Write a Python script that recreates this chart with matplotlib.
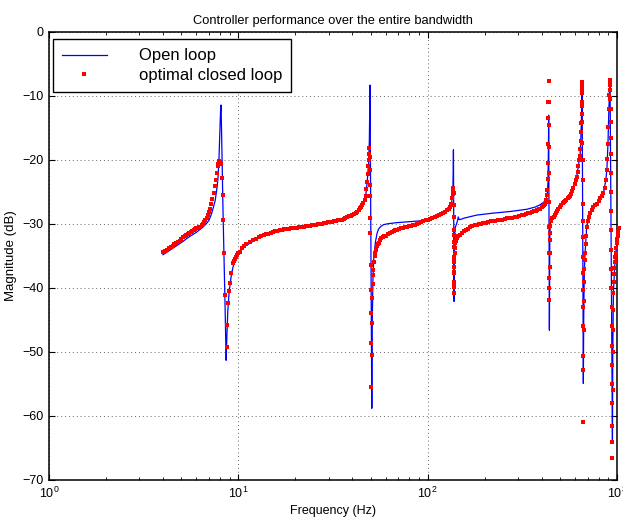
import matplotlib
matplotlib.use("Agg")
import matplotlib.pyplot as plt
from matplotlib.ticker import LogLocator, NullFormatter

plt.rcParams['font.family'] = ['Liberation Sans', 'DejaVu Sans']
plt.rcParams['mathtext.fontset'] = 'custom'
plt.rcParams['mathtext.rm'] = 'Liberation Sans'
plt.rcParams['mathtext.it'] = 'Liberation Sans:italic'
plt.rcParams['mathtext.bf'] = 'Liberation Sans:bold'

# ---------------- data (frequency Hz, magnitude dB) ----------------
open_loop = [
    (4.0, -34.8), (4.5, -33.8), (5.0, -32.9), (5.5, -32.0), (6.0, -31.3), (6.5, -30.5),
    (6.8, -29.9), (7.0, -29.4), (7.2, -28.5), (7.4, -27.3), (7.55, -26.3), (7.7, -24.5),
    (7.8, -23.0), (7.9, -20.0), (7.97, -16.5), (8.05, -12.5), (8.1, -11.4), (8.15, -15.0),
    (8.22, -21.0), (8.3, -28.0), (8.4, -35.0), (8.5, -42.0), (8.56, -47.0), (8.62, -51.3),
    (8.7, -47.5), (8.8, -43.5), (8.95, -40.5), (9.2, -37.8), (9.5, -36.0), (9.8, -35.0),
    (10.2, -34.4), (10.7, -33.6), (11.5, -33.0), (13.0, -32.1), (15.3, -31.4), (18.8, -30.85),
    (23.0, -30.45), (28.1, -30.05), (34.5, -29.55), (38.9, -28.95), (42.2, -28.3), (44.9, -27.4),
    (46.4, -26.5), (47.4, -24.9), (48.2, -22.5), (48.8, -20.3), (49.2, -17.0), (49.45, -12.0),
    (49.6, -8.3), (49.8, -18.0), (50.0, -30.0), (50.3, -42.0), (50.5, -51.0), (50.7, -58.8),
    (51.0, -45.0), (51.4, -38.5), (52.0, -35.0), (53.0, -32.8), (54.0, -31.5), (55.0, -30.8),
    (56.5, -30.4), (58.5, -30.1), (62.0, -29.95), (68.0, -29.8), (75.0, -29.7), (84.0, -29.6),
    (92.0, -29.5), (100.0, -29.35), (110.0, -29.0), (116.3, -28.7), (122.0, -28.35), (127.0, -27.9),
    (131.3, -27.3), (134.0, -26.5), (135.7, -25.3), (136.5, -22.0), (136.8, -18.4), (137.2, -28.0),
    (137.6, -36.0), (137.9, -42.1), (138.3, -36.0), (138.8, -31.5), (140.0, -30.5), (142.0, -30.0),
    (144.0, -29.4), (145.0, -28.9), (146.5, -29.3), (149.0, -29.3), (155.0, -29.1), (165.0, -28.9),
    (182.0, -28.6), (222.0, -28.3), (272.0, -28.05), (334.0, -27.7), (370.0, -27.35), (392.0, -27.0),
    (410.0, -26.6), (420.0, -26.2), (428.0, -25.5), (432.0, -23.5), (434.5, -18.0), (435.5, -13.0),
    (437.0, -25.0), (438.5, -36.0), (439.5, -46.6), (440.5, -38.0), (441.5, -33.0), (443.0, -30.8),
    (446.0, -29.6), (462.0, -28.9), (500.0, -27.3), (565.0, -25.7), (613.0, -22.6), (639.0, -19.0),
    (648.0, -14.5), (652.0, -10.0), (654.0, -7.8), (657.0, -20.0), (660.0, -35.0), (662.0, -45.0),
    (664.0, -54.9), (667.0, -45.0), (670.0, -40.0), (673.0, -37.0), (678.0, -34.6), (692.0, -30.4),
    (721.0, -28.3), (782.0, -26.8), (848.0, -25.2), (872.0, -23.2), (884.0, -21.6), (896.0, -17.5),
    (906.0, -12.0), (915.0, -8.3), (919.0, -7.5), (925.0, -20.0), (932.0, -35.0), (940.0, -52.0),
    (946.0, -63.75), (950.0, -50.0), (957.0, -40.8), (975.0, -36.0), (998.0, -33.0),
]

closed_a = [
    (4.0, -34.4), (4.1, -34.2), (4.2, -34.0), (4.3, -33.8), (4.4, -33.6), (4.5, -33.4),
    (4.6, -33.2), (4.7, -33.0), (4.8, -32.8), (4.9, -32.6), (5.0, -32.3), (5.1, -32.1),
    (5.2, -31.9), (5.3, -31.7), (5.4, -31.5), (5.5, -31.4), (5.6, -31.2), (5.7, -31.1),
    (5.8, -30.9), (5.9, -30.8), (6.0, -30.7), (6.1, -30.6), (6.2, -30.5), (6.3, -30.4),
    (6.4, -30.2), (6.5, -30.0), (6.6, -29.7), (6.7, -29.4), (6.8, -29.0), (6.9, -28.6),
    (7.0, -28.1), (7.1, -27.6), (7.2, -26.9), (7.3, -26.1), (7.4, -25.1), (7.5, -24.1),
    (7.6, -23.1), (7.7, -22.0), (7.8, -21.0), (7.85, -20.6), (7.9, -20.3), (7.95, -20.2),
    (8.0, -20.3), (8.05, -20.4), (8.1, -20.6), (8.17, -22.8), (8.25, -25.5), (8.33, -29.4),
    (8.45, -34.6), (8.55, -41.1), (8.68, -45.8), (8.75, -49.2), (8.84, -42.3), (8.93, -40.5),
    (9.03, -39.2), (9.2, -37.6), (9.4, -36.1), (9.5, -35.8), (9.6, -35.5), (9.7, -35.1),
    (9.8, -34.8), (10.0, -34.5), (10.2, -34.3), (10.4, -33.8), (10.7, -33.5), (11.0, -33.2),
    (11.5, -32.8),
]

closed_b = [
    (12.0, -32.5), (12.4, -32.3), (12.8, -32.0), (13.2, -31.85), (13.6, -31.7), (14.0, -31.6),
    (14.4, -31.5), (14.8, -31.4), (15.2, -31.25), (15.6, -31.15), (16.0, -31.1), (16.5, -31.0),
    (17.0, -30.95), (17.5, -30.85), (18.0, -30.8), (18.5, -30.75), (19.0, -30.7), (19.5, -30.65),
    (20.0, -30.6), (20.5, -30.55), (21.0, -30.5), (21.6, -30.45), (22.2, -30.4), (22.8, -30.35),
    (23.4, -30.3), (24.0, -30.25), (24.6, -30.2), (25.2, -30.15), (25.8, -30.1), (26.4, -30.05),
    (27.0, -30.0), (27.7, -29.95), (28.4, -29.9), (29.1, -29.85), (29.8, -29.75), (30.5, -29.7),
    (31.2, -29.65), (32.0, -29.6), (32.8, -29.5), (33.6, -29.45), (34.4, -29.4), (35.2, -29.3),
    (36.0, -29.2), (36.8, -29.1), (37.6, -28.95), (38.4, -28.8), (39.2, -28.7), (40.0, -28.55),
    (40.8, -28.4), (41.6, -28.25), (42.4, -28.05), (43.2, -27.8), (44.0, -27.5), (44.6, -27.3),
    (45.2, -27.0), (45.8, -26.7), (46.4, -26.3), (47.0, -25.6), (47.4, -24.6), (47.8, -23.4),
    (48.2, -22.2), (48.5, -21.0), (48.8, -20.0), (49.0, -19.0), (49.2, -18.2), (49.35, -19.5),
    (49.45, -21.5), (49.55, -23.9), (49.65, -25.7), (49.75, -29.1), (49.85, -31.4), (49.95, -36.4),
    (50.05, -40.3), (50.15, -43.9), (50.25, -48.6), (50.4, -55.4),
]

closed_c = [
    (50.6, -50.5), (50.8, -45.5), (51.0, -41.5), (51.2, -39.3), (51.5, -38.0), (51.7, -37.2),
    (52.0, -36.0), (52.4, -35.0), (52.7, -34.6), (53.2, -34.0), (53.8, -33.5), (54.4, -33.2),
    (55.0, -32.9), (56.0, -32.5), (57.0, -32.2), (58.0, -32.0), (59.0, -31.9), (60.0, -31.8),
    (61.5, -31.6), (63.0, -31.4), (64.5, -31.3), (66.0, -31.1), (67.5, -31.0), (69.0, -30.9),
    (70.5, -30.8), (72.0, -30.7), (74.0, -30.6), (76.0, -30.5), (78.0, -30.45), (80.0, -30.35),
    (82.0, -30.3), (84.0, -30.2), (86.0, -30.1), (88.0, -30.0), (90.0, -29.9), (92.5, -29.75),
    (95.0, -29.6), (97.5, -29.45), (100.0, -29.3), (103.0, -29.15), (106.0, -29.0), (109.0, -28.85),
    (112.0, -28.75), (115.0, -28.6), (118.0, -28.45), (121.0, -28.3), (124.0, -28.1), (127.0, -27.85),
    (129.5, -27.6), (131.5, -27.3), (133.5, -26.8), (135.0, -26.0), (135.8, -25.3), (136.3, -24.7),
    (136.8, -24.4), (137.0, -25.2), (137.1, -27.0), (137.2, -28.9), (137.3, -30.9), (137.4, -31.7),
    (137.5, -32.8), (137.6, -33.6), (137.7, -35.6), (137.75, -36.7), (137.8, -37.7), (137.85, -39.2),
    (137.9, -39.8), (137.95, -40.8),
]

closed_d = [
    (138.05, -39.0), (138.15, -37.5), (138.3, -36.0), (138.5, -35.2), (138.8, -34.6), (139.2, -33.8),
    (139.6, -33.0), (140.5, -32.7), (141.5, -32.45), (143.0, -32.2), (145.0, -31.95), (148.3, -31.7),
    (152.0, -31.4), (156.0, -31.15), (160.0, -30.95), (164.0, -30.75), (167.5, -30.5), (172.0, -30.35),
    (177.0, -30.2), (182.0, -30.1), (187.0, -30.0), (192.0, -29.95), (197.0, -29.9), (203.0, -29.8),
    (209.0, -29.7), (215.0, -29.6), (221.0, -29.55), (227.0, -29.5), (234.0, -29.45), (241.0, -29.4),
    (248.0, -29.3), (256.0, -29.2), (264.0, -29.1), (272.0, -29.05), (280.0, -29.0), (288.0, -28.95),
    (296.0, -28.9), (305.0, -28.8), (314.0, -28.65), (323.0, -28.55), (332.0, -28.45), (340.0, -28.35),
    (348.0, -28.3), (356.0, -28.15), (364.0, -28.0), (372.0, -27.9), (380.0, -27.8), (388.0, -27.7),
    (393.0, -27.6), (400.0, -27.4), (407.0, -27.2), (413.0, -27.0), (417.0, -26.8), (422.0, -26.2),
    (426.0, -25.5), (429.0, -24.7), (430.5, -23.0), (431.5, -20.5), (432.5, -17.5), (433.5, -13.5),
    (434.5, -10.9), (435.0, -7.6), (435.5, -10.9), (436.0, -14.5), (436.5, -18.0), (437.0, -22.0),
    (437.5, -26.5), (438.0, -30.5), (438.5, -34.5), (439.0, -38.5), (439.5, -41.9), (440.0, -40.0),
    (440.5, -36.7), (441.0, -34.6), (441.5, -32.5), (442.5, -31.4), (444.0, -30.3), (446.0, -29.6),
]

closed_e = [
    (450.0, -29.3), (456.0, -29.1), (462.0, -28.9), (468.0, -28.6), (475.0, -28.3), (482.0, -28.0),
    (490.0, -27.7), (500.0, -27.3), (508.0, -27.0), (516.0, -26.75), (524.0, -26.5), (532.0, -26.35),
    (540.0, -26.2), (548.0, -26.0), (556.0, -25.85), (565.0, -25.7), (573.0, -25.3), (581.0, -24.9),
    (589.0, -24.4), (597.0, -23.8), (605.0, -23.2), (613.0, -22.6), (620.0, -21.8), (626.0, -20.9),
    (632.0, -20.0), (637.0, -19.3), (641.0, -18.3), (644.0, -17.0), (646.5, -15.6), (648.5, -14.2),
    (650.0, -12.8), (651.5, -11.0), (652.5, -9.6), (653.5, -8.4), (654.2, -7.8), (654.8, -7.9),
    (655.3, -9.1), (655.9, -11.5), (656.5, -14.0), (657.0, -17.4), (657.5, -20.0), (658.0, -23.1),
    (658.5, -26.8), (659.0, -29.5), (659.5, -32.0), (660.0, -35.1), (660.5, -37.7), (661.0, -40.3),
    (661.5, -42.9), (662.0, -46.0), (662.6, -50.7), (663.5, -60.9), (664.5, -52.8), (665.5, -46.5),
    (667.0, -42.0), (669.0, -39.0), (671.5, -37.0), (674.5, -35.6), (678.0, -34.6), (682.0, -33.2),
    (687.0, -31.8), (692.0, -30.4), (700.0, -29.6), (710.0, -28.9), (721.0, -28.3), (735.0, -27.8),
    (750.0, -27.4), (765.0, -27.1), (782.0, -26.8), (800.0, -26.4), (815.0, -26.0), (830.0, -25.7),
    (848.0, -25.2), (860.0, -24.4), (872.0, -23.2), (884.0, -21.6), (890.0, -19.8), (896.0, -17.5),
    (901.0, -14.8), (906.0, -12.0), (911.0, -9.8), (915.0, -8.3), (919.0, -7.5),
]

closed_f = [
    (920.0, -7.6), (921.0, -8.2), (922.0, -9.0), (923.0, -10.5), (924.0, -12.0), (925.0, -14.0),
    (926.0, -16.5), (927.0, -19.0), (928.0, -22.0), (929.0, -25.0), (930.0, -28.0), (931.0, -31.0),
    (932.0, -34.0), (933.0, -37.0), (934.2, -40.0), (935.4, -43.0), (936.6, -46.0), (937.8, -49.0),
    (939.0, -52.0), (940.3, -55.0), (941.6, -58.0), (943.0, -61.5), (944.5, -64.0), (946.0, -66.6),
    (948.0, -56.0), (950.0, -50.0), (952.0, -46.5), (954.5, -43.5), (957.0, -40.8), (961.0, -39.0),
    (965.0, -37.8), (970.0, -36.8), (975.0, -36.0), (980.0, -35.2), (985.0, -34.5), (991.0, -33.7),
    (998.0, -33.0), (1004.0, -32.3), (1010.0, -31.8), (1018.0, -31.2), (1026.0, -30.7),
]

title_text = "Controller performance over the entire bandwidth"
xlabel_text = "Frequency (Hz)"
ylabel_text = "Magnitude (dB)"
legend_labels = ["Open loop", "optimal closed loop"]
x_ticks = [1, 10, 100, 1000]
x_tick_labels = [r"$\mathregular{10^{0}}$", r"$\mathregular{10^{1}}$",
                 r"$\mathregular{10^{2}}$", r"$\mathregular{10^{3}}$"]
y_ticks = [-70, -60, -50, -40, -30, -20, -10, 0]

# ---------------- figure ----------------
fig = plt.figure(figsize=(6.23, 5.20), dpi=100)
ax = fig.add_axes([49 / 623, 40 / 520, 568 / 623, 448 / 520])

ol_f = [p[0] for p in open_loop]
ol_m = [p[1] for p in open_loop]
closed = closed_a + closed_b + closed_c + closed_d + closed_e + closed_f
cl_f = [p[0] for p in closed]
cl_m = [p[1] for p in closed]

ax.plot(ol_f, ol_m, color='#0000ff', lw=0.9, label=legend_labels[0], zorder=3)
ax.plot(cl_f, cl_m, linestyle='none', marker='s', ms=2.4, mew=0,
        color='#ff0000', label=legend_labels[1], zorder=4, clip_on=False)

ax.set_xscale('log')
ax.set_xlim(1, 1000)
ax.set_ylim(-70, 0)
ax.set_xticks(x_ticks)
ax.set_xticklabels(x_tick_labels)
ax.xaxis.set_minor_locator(LogLocator(base=10, subs=range(2, 10)))
ax.xaxis.set_minor_formatter(NullFormatter())
ax.set_yticks(y_ticks)

ax.grid(True, which='major', linestyle=(0, (1, 3)), color='0.4', lw=0.7)
ax.tick_params(which='major', direction='in', length=4, width=0.8, top=True, right=True,
               labelsize=9, pad=4)
ax.tick_params(which='minor', direction='in', length=2, width=0.6, top=True, right=False)
for s in ax.spines.values():
    s.set_linewidth(1.1)

ax.set_title(title_text, fontsize=9.3, pad=6)
ax.set_xlabel(xlabel_text, fontsize=9, labelpad=3)
ax.set_ylabel(ylabel_text, fontsize=9.5, labelpad=4)

leg = ax.legend(loc='upper left', bbox_to_anchor=(0.0065, 0.984), borderaxespad=0,
                fontsize=12, handlelength=2.7, handletextpad=1.9, labelspacing=0.25,
                borderpad=0.55, fancybox=False, framealpha=1, edgecolor='black',
                numpoints=1, markerscale=1.0)
leg.get_frame().set_linewidth(1.0)

fig.savefig('out.png', dpi=100)
